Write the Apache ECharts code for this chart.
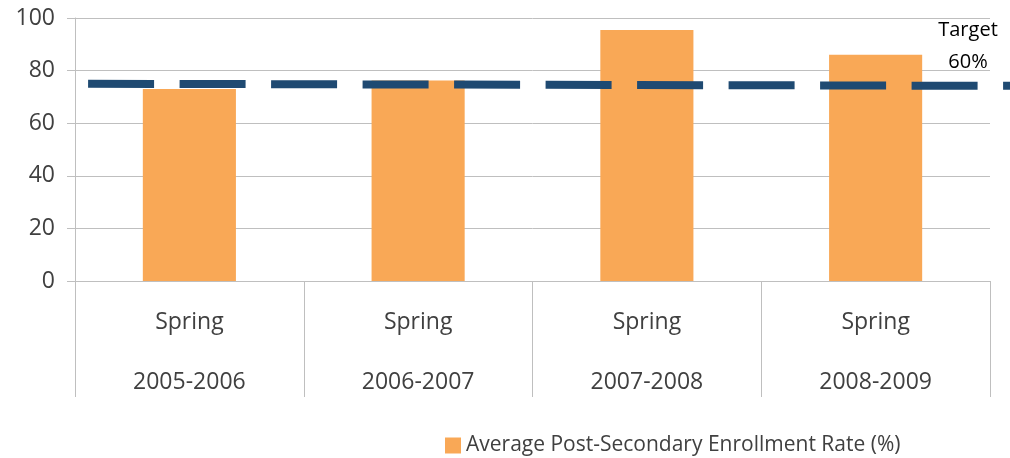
<!DOCTYPE html>
<html>
<head>
<meta charset="utf-8">
<script src="https://cdn.jsdelivr.net/npm/echarts@6/dist/echarts.min.js"></script>
<style>
  html, body { margin: 0; padding: 0; background: #fff; }
  #chart { width: 1010px; height: 458px; }
</style>
</head>
<body>
<div id="chart"></div>
<script>
// 数据
const seasons = ["Spring", "Spring", "Spring", "Spring"]
const years = ["2005-2006", "2006-2007", "2007-2008", "2008-2009"]
const enrollmentRate = [73, 76.2, 95.4, 86]
const yTicks = [0, 20, 40, 60, 80, 100]
// target line: runs past the plot to the right edge (own wider grid)
const targetLineX = [0.014, 1]
const targetLineY = [75, 74.2]

const categories = years.map((y, i) => seasons[i] + "\n\n" + y)
const textGray = "#404040"
const gridGray = "#bfbfbf"
const fontFamily = "'Open Sans', sans-serif"

const chart = echarts.init(document.getElementById("chart"))
chart.setOption({
  animation: false,
  textStyle: { fontFamily },
  graphic: [
    {
      type: "text",
      x: 968,
      y: 14,
      style: {
        text: "Target\n60%",
        textAlign: "center",
        fontSize: 20,
        lineHeight: 32,
        fill: "#000",
        fontFamily
      }
    }
  ],
  legend: {
    data: ["Average Post-Secondary Enrollment Rate (%)"],
    left: 440,
    top: 430,
    icon: "rect",
    itemWidth: 16,
    itemHeight: 16,
    itemGap: 10,
    textStyle: { fontSize: 21, color: textGray, fontFamily }
  },
  grid: [
    { left: 75, right: 20, top: 18, bottom: 177 },
    { left: 75, right: 0, top: 18, bottom: 177 }
  ],
  xAxis: [
    {
      type: "category",
      gridIndex: 0,
      data: categories,
      boundaryGap: true,
      axisLine: { show: true, lineStyle: { color: gridGray, width: 1 } },
      axisTick: {
        show: true,
        length: 116,
        interval: 0,
        lineStyle: { color: gridGray, width: 1 }
      },
      axisLabel: {
        interval: 0,
        margin: 26,
        fontSize: 23,
        lineHeight: 30,
        color: textGray,
        fontFamily
      }
    },
    {
      type: "value",
      gridIndex: 1,
      min: 0,
      max: 1,
      show: false
    }
  ],
  yAxis: [
    {
      type: "value",
      gridIndex: 0,
      min: yTicks[0],
      max: yTicks[yTicks.length - 1],
      interval: yTicks[1] - yTicks[0],
      axisLine: { show: true, lineStyle: { color: gridGray, width: 1 } },
      axisTick: { show: true, length: 8, lineStyle: { color: gridGray } },
      splitLine: { show: true, lineStyle: { color: gridGray, width: 1 } },
      axisLabel: {
        margin: 20,
        fontSize: 23,
        color: textGray,
        fontFamily
      }
    },
    {
      type: "value",
      gridIndex: 1,
      min: yTicks[0],
      max: yTicks[yTicks.length - 1],
      show: false
    }
  ],
  series: [
    {
      name: "Average Post-Secondary Enrollment Rate (%)",
      type: "bar",
      data: enrollmentRate,
      barWidth: "40.7%",
      itemStyle: { color: "#F9A856" }
    },
    {
      name: "Target",
      type: "line",
      xAxisIndex: 1,
      yAxisIndex: 1,
      data: targetLineX.map((x, i) => [x, targetLineY[i]]),
      symbol: "none",
      clip: false,
      lineStyle: {
        color: "#1F4A72",
        width: 8,
        type: [66, 25.5],
        cap: "butt"
      },
      z: 5
    }
  ]
})
</script>
</body>
</html>
